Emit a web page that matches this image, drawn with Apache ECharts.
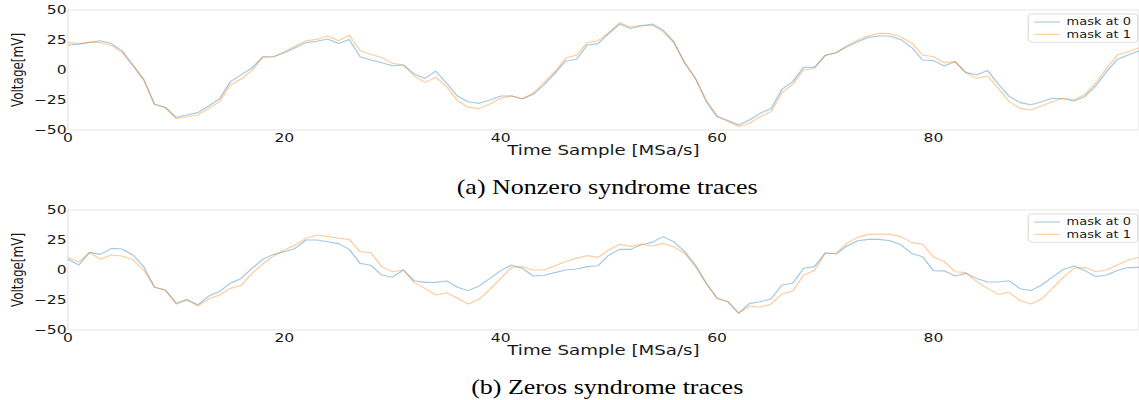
<!DOCTYPE html>
<html lang="en">
<head>
  <meta charset="UTF-8">
  <title>syndrome traces</title>
  <script src="https://cdn.jsdelivr.net/npm/echarts@6/dist/echarts.min.js"></script>
  <style>
    html, body { margin: 0; padding: 0; background: #fff; overflow: hidden; }
    /* the reference figure is stretched sideways, so draw narrow and scale */
    #chart {
      width: 876px;
      height: 400px;
      transform: scaleX(1.3002);
      transform-origin: 0 0;
    }
  </style>
</head>
<body>
  <div id="chart"></div>
  <script>
    // tick labels
    const xTicks = [0, 20, 40, 60, 80];
    const yTicks = [-50, -25, 0, 25, 50];

    // (a) nonzero syndrome, mV per sample
    const nzMask0 = [20.8, 21.4, 23, 24.4, 22, 16, 4, -8, -28.6, -31, -39.4, -37.5, -35.5, -30, -24, -9.7, -4, 1.7, 11, 11,
      14.4, 18.6, 22.8, 24, 25.8, 22, 25.5, 11, 8.3, 6, 3.6, 4.2, -3.3, -7, -1, -11, -21.7, -26.4, -27.8, -25,
      -21.7, -21.7, -24, -20.3, -12.5, -2.8, 7.5, 8.9, 20.8, 22, 30.5, 38.3, 34.5, 36.7, 38.3, 33.3, 23.6, 6, -7, -26.4,
      -38.9, -42, -45.8, -41.7, -36, -32, -16, -9.7, 2.2, 2.2, 12.2, 14.4, 19.4, 23.6, 27.2, 28.3, 28.3, 25.3, 18.7, 8.3,
      7.8, 3.3, 7, -2.2, -4, -0.5, -11.7, -22, -27.2, -29, -26.4, -23.6, -24, -25.8, -22, -13.3, -1.4, 8.9, 12.5, 16];
    const nzMask1 = [23, 22, 23, 23, 20.5, 14.7, 4, -8, -28.6, -31.5, -40.5, -39, -37.5, -32, -26.4, -12.5, -7.5, -0.5, 10.5, 11,
      15.3, 20, 24.4, 25.5, 28.3, 24.4, 29, 16, 13, 10.5, 5.5, 4.2, -5, -10.3, -6, -14, -25.5, -31, -32.2, -28.3,
      -23.6, -21.4, -24, -19.4, -10.5, -1.4, 9.7, 12.5, 22.8, 24.4, 31.4, 39.4, 35.8, 37.2, 37.2, 32, 22.8, 6, -7, -25,
      -38.3, -43, -47, -44.4, -38.9, -34.7, -18.9, -11.7, 0, 1.4, 12.2, 14.4, 20.3, 25, 28.6, 30.5, 30.3, 27.5, 22.4, 12.5,
      11, 6, 7, -2.2, -7, -5, -15.3, -26.4, -32, -33.3, -30, -26.4, -23.6, -25, -20.3, -11, 1.4, 12.5, 15.3, 18.6];

    // (b) zeros syndrome
    const zMask0 = [8.9, 4.2, 14.7, 13, 18, 17.5, 12.5, 2.8, -14.4, -16.7, -28.3, -25, -29, -21.7, -18, -11, -7, 1.4, 8.9, 13,
      15.3, 18, 25, 25, 23.5, 22, 17.2, 5.5, 3.9, -4.2, -6, 0, -8.9, -10.3, -10.3, -9.2, -14.4, -17.2, -13.3, -7,
      -0.5, 4.2, 1.4, -5, -4.4, -2.2, 0, 0.8, 2.8, 3.6, 12.5, 17.2, 17.2, 21, 23, 27.8, 23.6, 15.3, 4.2, -11,
      -23.6, -26.4, -36, -27.8, -26.4, -24, -12.5, -11, 1.4, 2.8, 14.4, 13.3, 20, 24.4, 25.5, 25.5, 24.4, 21, 13.7, 11,
      -0.5, -0.7, -5, -2.8, -7, -10, -10, -8.9, -15.6, -17.2, -12.5, -6, 0.5, 3.3, -0.5, -5.5, -4.2, -0.5, 2, 2.2];
    const zMask1 = [10.5, 6.7, 14.7, 8.9, 12.5, 11.7, 8.3, 0, -14.4, -16.7, -27.2, -24.4, -30, -24, -20.8, -15.3, -13, -2.8, 5, 11.7,
      16.7, 20.8, 26.4, 29, 28, 26.4, 25.5, 15.3, 14.4, 2.8, -1.4, 0, -10.5, -15.3, -20.8, -18.9, -23.6, -28.3, -24.4, -16.1,
      -7, 2.2, 2.8, 0, 0, 3.6, 7, 9.7, 12, 10.5, 16.7, 21.4, 19.7, 21.4, 20, 22.2, 19.4, 13.9, 2.8, -11,
      -23.6, -26.4, -36, -30, -31, -28.3, -20, -17.5, -4.2, -0.5, 13.9, 13.9, 22.2, 27.2, 29.7, 30, 29.7, 27.8, 22.8, 21.4,
      10.8, 7, -1.4, -2.2, -9.7, -15.3, -20.3, -18.6, -25.5, -28.3, -24.2, -15.3, -6, 1.4, 2.2, -1.4, 0, 4.2, 8.3, 10.5];

    const names = ['mask at 0', 'mask at 1'];
    const colors = ['#1f77b4', '#ff7f0e'];

    var myChart = echarts.init(document.getElementById('chart'), null, { renderer: 'svg' });

    const tickFont = { fontFamily: 'DejaVu Sans', fontSize: 12, color: '#1a1a1a' };

    function xAxisOf(gridIndex) {
      return {
        type: 'value',
        gridIndex: gridIndex,
        min: xTicks[0],
        max: 99,
        interval: xTicks[1] - xTicks[0],
        name: 'Time Sample [MSa/s]',
        nameLocation: 'middle',
        nameGap: 13,
        nameMoveOverlap: false,
        nameTextStyle: { fontFamily: 'DejaVu Sans', fontSize: 14, color: '#1a1a1a' },
        axisLine: { show: false },
        axisTick: { show: false },
        splitLine: { show: false },
        axisLabel: Object.assign({ margin: 2, showMaxLabel: false }, tickFont)
      };
    }

    function yAxisOf(gridIndex) {
      return {
        type: 'value',
        gridIndex: gridIndex,
        min: yTicks[0],
        max: yTicks[yTicks.length - 1],
        interval: yTicks[1] - yTicks[0],
        name: 'Voltage[mV]',
        nameLocation: 'middle',
        nameGap: 33,
        nameMoveOverlap: false,
        nameTextStyle: { fontFamily: 'DejaVu Sans', fontSize: 12, color: '#1a1a1a' },
        axisLine: { show: false },
        axisTick: { show: false },
        splitLine: { show: false },
        axisLabel: Object.assign({
          margin: 1,
          formatter: function (v) { return v < 0 ? '\u2212' + Math.abs(v) : String(v); }
        }, tickFont)
      };
    }

    function legendOf(top) {
      return {
        data: names,
        orient: 'vertical',
        right: 1,
        top: top,
        itemWidth: 20,
        itemHeight: 10,
        itemGap: 2.3,
        padding: [3, 5, 3, 4],
        borderColor: '#dddddd',
        borderWidth: 1,
        borderRadius: 3,
        backgroundColor: 'rgba(255,255,255,0.8)',
        // line only, no marker in the legend
        itemStyle: { opacity: 0 },
        lineStyle: { opacity: 0.4, width: 1.1 },
        textStyle: { fontFamily: 'DejaVu Sans', fontSize: 10, color: '#1a1a1a' }
      };
    }

    function traceSeries(name, values, axisIndex, k) {
      return {
        name: name,
        type: 'line',
        xAxisIndex: axisIndex,
        yAxisIndex: axisIndex,
        symbol: 'none',
        silent: true,
        animation: false,
        lineStyle: { color: colors[k], width: 1.1, opacity: 0.4 },
        itemStyle: { color: colors[k] },
        data: values.map((v, i) => [i, v])
      };
    }

    const captionFont = { fontFamily: 'Liberation Serif', fontSize: 20, fontWeight: 'normal', color: '#000' };

    var option = {
      backgroundColor: '#fff',
      title: [
        { text: '(a) Nonzero syndrome traces', left: 462, top: 172, textAlign: 'center', textStyle: captionFont },
        { text: '(b) Zeros syndrome traces', left: 462, top: 372, textAlign: 'center', textStyle: captionFont }
      ],
      legend: [legendOf(14), legendOf(214)],
      grid: [
        { left: 52.3, right: 0, top: 10, height: 120, show: true, borderColor: '#e6e6e6', borderWidth: 1, outerBoundsMode: 'none' },
        { left: 52.3, right: 0, top: 210, height: 120, show: true, borderColor: '#e6e6e6', borderWidth: 1, outerBoundsMode: 'none' }
      ],
      xAxis: [xAxisOf(0), xAxisOf(1)],
      yAxis: [yAxisOf(0), yAxisOf(1)],
      series: [
        traceSeries(names[0], nzMask0, 0, 0),
        traceSeries(names[1], nzMask1, 0, 1),
        traceSeries(names[0], zMask0, 1, 0),
        traceSeries(names[1], zMask1, 1, 1)
      ]
    };

    myChart.setOption(option);
  </script>
</body>
</html>
